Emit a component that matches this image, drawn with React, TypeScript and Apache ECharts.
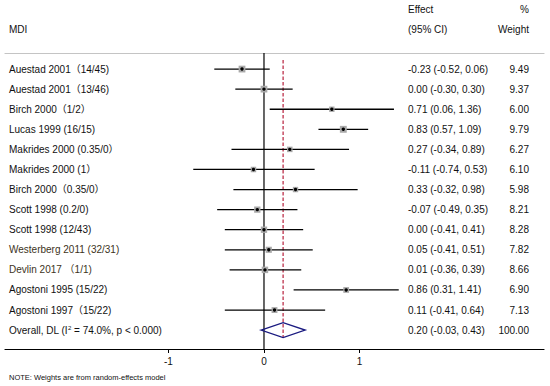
import React, { useEffect, useRef } from "react";
import * as echarts from "echarts";

const studies = [
  "Auestad 2001（14/45)",
  "Auestad 2001（13/46)",
  "Birch 2000（1/2）",
  "Lucas 1999 (16/15)",
  "Makrides 2000 (0.35/0）",
  "Makrides 2000 (1）",
  "Birch 2000（0.35/0）",
  "Scott 1998 (0.2/0)",
  "Scott 1998 (12/43)",
  "Westerberg 2011 (32/31)",
  "Devlin 2017 （1/1)",
  "Agostoni 1995 (15/22)",
  "Agostoni 1997（15/22)",
];
const effects = [-0.23, 0.0, 0.71, 0.83, 0.27, -0.11, 0.33, -0.07, 0.0, 0.05, 0.01, 0.86, 0.11];
const lower = [-0.52, -0.3, 0.06, 0.57, -0.34, -0.74, -0.32, -0.49, -0.41, -0.41, -0.36, 0.31, -0.41];
const upper = [0.06, 0.3, 1.36, 1.09, 0.89, 0.53, 0.98, 0.35, 0.41, 0.51, 0.39, 1.41, 0.64];
const weights = [9.49, 9.37, 6.0, 9.79, 6.27, 6.1, 5.98, 8.21, 8.28, 7.82, 8.66, 6.9, 7.13];
const overallEffect = 0.2;
const overallLower = -0.03;
const overallUpper = 0.43;
const overallWeight = 100.0;
const overallI2 = "74.0%";
const overallP = "0.000";
const xTicks = [-1, 0, 1];
const tintedRows = [9, 10];

const FONT = "'Liberation Sans', Arial, 'Noto Sans CJK SC', sans-serif";
const TXT = "#111111";

function fmt(v: number) {
  return v.toFixed(2);
}

export default function App() {
  const ref = useRef<HTMLDivElement>(null);
  useEffect(() => {
    if (!ref.current) return;
    document.body.style.margin = "0";
    const chart = echarts.init(ref.current, undefined, { renderer: "svg" });
    const nRows = studies.length + 1;
    const rows = Array.from({ length: nRows }, (_, i) => [0, i]);

    const txt = (x: number, y: number, text: string, align: string, fill = TXT) => ({
      type: "text",
      x,
      y,
      style: {
        text,
        fontSize: 10,
        fontFamily: FONT,
        fill,
        align,
        verticalAlign: "middle",
      },
    });

    const renderRefLines = (params: any, api: any) => {
      const top = api.coord([0, -0.8]);
      const bot = api.coord([0, 13.94]);
      const rt = api.coord([overallEffect, -0.45]);
      const rb = api.coord([overallEffect, 13.35]);
      return {
        type: "group",
        children: [
          {
            type: "line",
            shape: { x1: top[0], y1: top[1], x2: bot[0], y2: bot[1] },
            style: { stroke: "#000", lineWidth: 1.2 },
          },
          {
            type: "line",
            shape: { x1: rt[0], y1: rt[1], x2: rb[0], y2: rb[1] },
            style: { stroke: "#b8203c", lineWidth: 1.2, lineDash: [3.5, 2] },
          },
        ],
      };
    };

    const renderItem = (params: any, api: any) => {
      const i = params.dataIndex;
      const isOverall = i === studies.length;
      const y = api.coord([0, i])[1];
      const children: any[] = [];
      if (!isOverall) {
        const pL = api.coord([lower[i], i]);
        const pH = api.coord([upper[i], i]);
        const pE = api.coord([effects[i], i]);
        children.push({
          type: "line",
          shape: { x1: pL[0], y1: y, x2: pH[0], y2: y },
          style: { stroke: "#000", lineWidth: 1.3 },
        });
        const s = 2.2 * Math.sqrt(weights[i]);
        children.push({
          type: "rect",
          shape: { x: pE[0] - s / 2, y: y - s / 2, width: s, height: s },
          style: { fill: "#a9a9a9" },
        });
        children.push({
          type: "circle",
          shape: { cx: pE[0], cy: y, r: 1.7 },
          style: { fill: "#000" },
        });
        children.push(txt(9, y, studies[i], "left", tintedRows.includes(i) ? "#3d3322" : TXT));
        children.push(txt(408, y, `${fmt(effects[i])} (${fmt(lower[i])}, ${fmt(upper[i])})`, "left"));
        children.push(txt(529, y, fmt(weights[i]), "right"));
      } else {
        const pL = api.coord([overallLower, i]);
        const pH = api.coord([overallUpper, i]);
        const pE = api.coord([overallEffect, i]);
        const h = 7.5;
        children.push({
          type: "polygon",
          shape: {
            points: [
              [pL[0], y],
              [pE[0], y - h],
              [pH[0], y],
              [pE[0], y + h],
            ],
          },
          style: { fill: "none", stroke: "#1a1a80", lineWidth: 1.4 },
        });
        children.push({
          type: "text",
          x: 9,
          y: y,
          style: {
            text: `Overall, DL (I{sup|2} = ${overallI2}, p < ${overallP})`,
            fontSize: 10,
            fontFamily: FONT,
            fill: TXT,
            align: "left",
            verticalAlign: "middle",
            rich: {
              sup: { fontSize: 6, fontFamily: FONT, fill: TXT, verticalAlign: "top", padding: [0, 0, 5, 0] },
            },
          },
        });
        children.push(txt(408, y, `${fmt(overallEffect)} (${fmt(overallLower)}, ${fmt(overallUpper)})`, "left"));
        children.push(txt(529, y, fmt(overallWeight), "right"));
      }
      return { type: "group", children };
    };

    chart.setOption({
      animation: false,
      backgroundColor: "#ffffff",
      grid: { left: 5, right: 6, top: 53, height: 296 },
      xAxis: [
        {
          type: "value",
          min: -2.71,
          max: 2.93,
          position: "bottom",
          axisLine: { show: true, onZero: false, lineStyle: { color: "#000", width: 1.2 } },
          axisTick: { show: true, customValues: xTicks, length: 4, lineStyle: { color: "#000" } },
          axisLabel: {
            show: true,
            customValues: xTicks,
            fontSize: 10,
            fontFamily: FONT,
            color: TXT,
            margin: 7,
          },
          splitLine: { show: false },
        },
        {
          type: "value",
          min: -2.71,
          max: 2.93,
          position: "top",
          axisLine: { show: true, onZero: false, lineStyle: { color: "#c4c4c4", width: 1.2 } },
          axisTick: { show: false },
          axisLabel: { show: false },
          splitLine: { show: false },
        },
      ],
      yAxis: {
        type: "value",
        inverse: true,
        min: -0.8,
        max: 13.94,
        show: false,
      },
      series: [
        {
          type: "custom",
          xAxisIndex: 0,
          clip: false,
          data: [[0, 0]],
          renderItem: renderRefLines,
          z: 2,
        },
        {
          type: "custom",
          xAxisIndex: 0,
          clip: false,
          data: rows,
          renderItem,
          z: 3,
        },
      ],
      graphic: [
        txt(9, 29, "MDI", "left"),
        txt(408, 9, "Effect", "left"),
        txt(408, 29, "(95% CI)", "left"),
        txt(529, 9, "%", "right"),
        txt(529, 29, "Weight", "right"),
        {
          type: "text",
          x: 9,
          y: 377,
          style: {
            text: "NOTE: Weights are from random-effects model",
            fontSize: 7.5,
            fontFamily: FONT,
            fill: TXT,
            align: "left",
            verticalAlign: "middle",
          },
        },
      ],
    });
    return () => chart.dispose();
  }, []);
  return <div ref={ref} style={{ width: 550, height: 386 }} />;
}
